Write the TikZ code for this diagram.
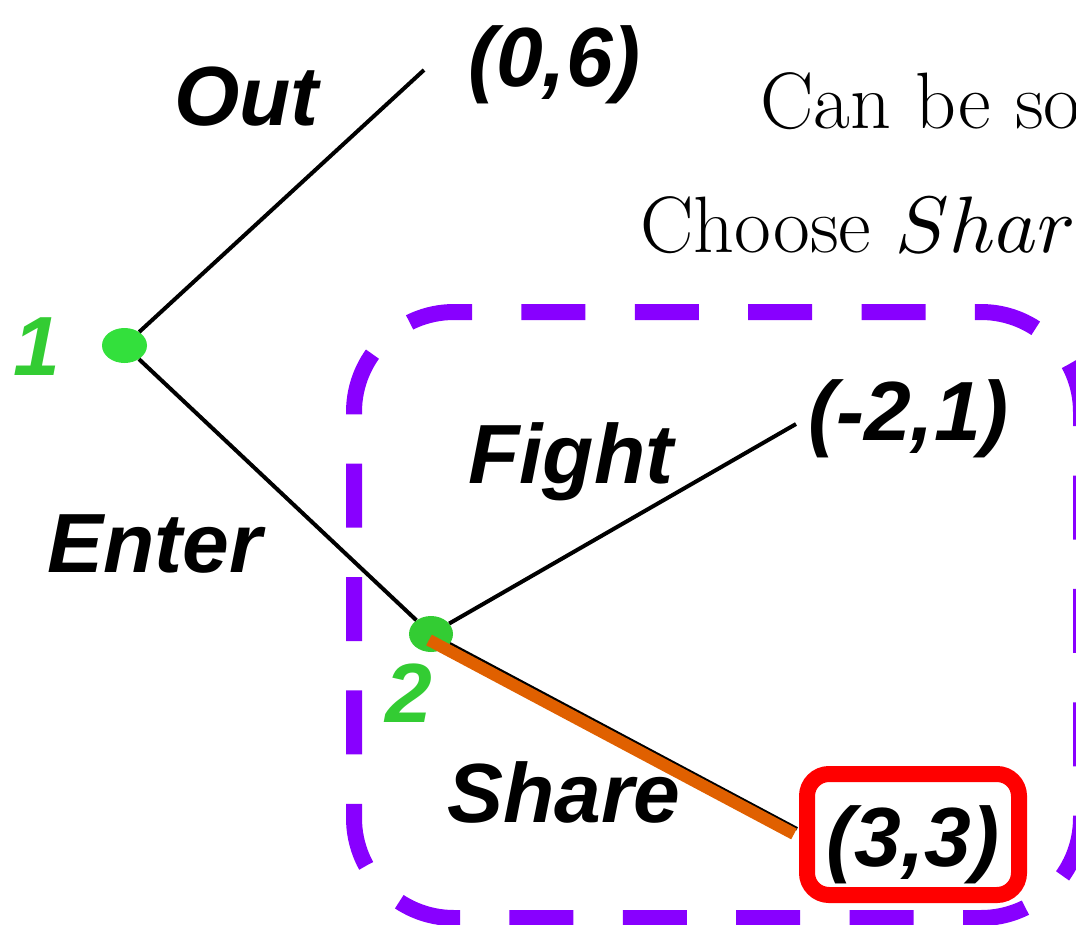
\documentclass[tikz,border=0pt]{standalone}
\usepackage{fontspec}
\setsansfont{Liberation Sans}
% scalable math italic for large sizes
\DeclareFontShape{OML}{cmm}{m}{it}{<-> cmmi10}{\skewchar\font127 }
\usetikzlibrary{shapes.geometric,calc}
\definecolor{nodegreen}{RGB}{51,224,60}
\definecolor{labelgreen}{RGB}{51,204,51}
\definecolor{boxpurple}{RGB}{136,0,255}
\definecolor{pathorange}{RGB}{224,96,0}
\definecolor{boxred}{RGB}{255,0,0}
\begin{document}
\begin{tikzpicture}[x=1pt,y=-1pt,
  decision/.style={ellipse, fill=nodegreen, minimum width=45pt, minimum height=35pt, inner sep=0pt},
  lbl/.style={font=\fontsize{84}{90}\selectfont\sffamily\bfseries\itshape, inner sep=0pt, anchor=base west},
  playerlbl/.style={lbl, anchor=base, text=labelgreen},
  branch/.style={line width=4pt},
  chosen/.style={pathorange, line width=12pt},
  note/.style={font=\fontsize{80}{90}\selectfont, inner sep=0pt, anchor=base west},
  subgame/.style={boxpurple, line width=16pt, dash pattern=on 64pt off 49.38pt, dash phase=47pt, rounded corners=100pt},
  payoffbox/.style={draw=boxred, line width=16pt, rounded corners=22pt, fill=white, minimum width=212pt, minimum height=121pt, inner sep=0pt}]
\useasboundingbox (0,0) rectangle (1076,924);
\clip (0,0) rectangle (1076,924);

% subgame frame (perimeter is a whole number of dash periods)
\draw[subgame] (455,312) -- (1081,312) -- (1081,918) -- (354,918) -- (354,312) -- (456,312);

% decision nodes
\node[decision] (n1) at (124.5,345.5) {};
\node[decision, fill=labelgreen, minimum width=44pt, minimum height=36pt] (n2) at (431,634) {};

% branch ends
\coordinate (outend) at (424,70);
\coordinate (fightend) at (796,424);
\coordinate (shareend) at (797,829);

\draw[branch] (n1) -- (outend);
\draw[branch] (n1) -- (n2);
\draw[branch] (n2) -- (fightend);
\draw[branch] (n2) -- (shareend);
\draw[chosen] ($(n2.center)+(-2,6)$) -- ($(shareend)+(-3,5)$);

% payoff box
\node[payoffbox] (box33) at (913,834.5) {};

% labels
\node[lbl] (out) at (174,125) {Out};
\node[lbl] (p06) at (468,86) {(0,6)};
\node[lbl] (enter) at (47,572) {Enter};
\node[lbl] (fight) at (468,483) {Fight};
\node[lbl] (pm21) at (808,440) {(-2,1)};
\node[lbl] (share) at (447,822) {Share};
\node[lbl, anchor=base] (p33) at (913,866) {(3,3)};
\node[playerlbl] (l1) at (37,375) {1};
\node[playerlbl] (l2) at (409,722) {2};

% side notes
\node[note] (t1) at (760,128) {Can be so};
\node[note] (t2) at (640,252) {Choose $Share$};
\end{tikzpicture}
\end{document}
